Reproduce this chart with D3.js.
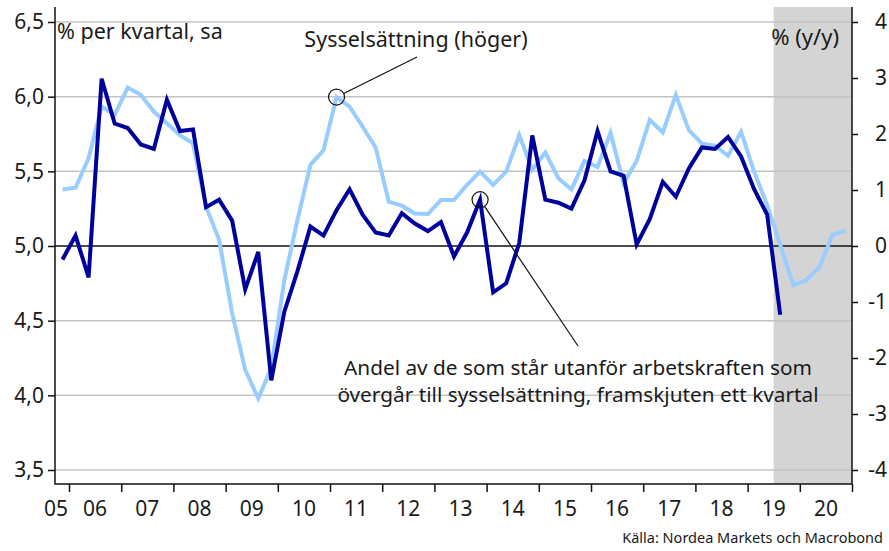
<!DOCTYPE html>
<html>
<head>
<meta charset="utf-8">
<script src="https://cdn.jsdelivr.net/npm/d3@7"></script>
<style>
    body { margin: 0; background: #fff; }
    text { font-family: "Noto Sans", "Open Sans", sans-serif; fill: #1a1a1a; }
</style>
</head>
<body>
<div id="chart"></div>
<script>
//ritningsinställningar
const width = 889;
const height = 551;

//data: kvartal från 2005 Q4
const startYear = 2005;
const startQuarter = 4;

//andel utanför arbetskraften -> sysselsättning, framskjuten ett kvartal (vänster axel)
const flowShare = [
    4.91, 5.07, 4.79, 6.12, 5.82, 5.79, 5.68, 5.65, 5.98, 5.77,
    5.78, 5.26, 5.31, 5.17, 4.71, 4.96, 4.10, 4.56, 4.83, 5.13,
    5.07, 5.24, 5.38, 5.21, 5.09, 5.07, 5.22, 5.15, 5.10, 5.16,
    4.93, 5.09, 5.31, 4.69, 4.75, 5.02, 5.74, 5.31, 5.29, 5.25,
    5.44, 5.77, 5.50, 5.47, 5.01, 5.18, 5.43, 5.33, 5.52, 5.66,
    5.65, 5.73, 5.60, 5.38, 5.21, 4.54
];

//sysselsättning, % y/y (höger axel)
const employment = [
    1.01, 1.04, 1.57, 2.49, 2.34, 2.83, 2.70, 2.40, 2.19, 1.98,
    1.83, 0.70, 0.11, -1.20, -2.21, -2.72, -2.18, -0.61, 0.46, 1.45,
    1.71, 2.66, 2.49, 2.13, 1.76, 0.79, 0.72, 0.58, 0.57, 0.82,
    0.82, 1.09, 1.33, 1.09, 1.33, 1.98, 1.36, 1.67, 1.21, 1.01,
    1.52, 1.41, 2.02, 1.12, 1.52, 2.25, 2.03, 2.70, 2.07, 1.83,
    1.79, 1.61, 2.04, 1.33, 0.73, 0.02, -0.70, -0.61, -0.38, 0.20,
    0.27
];

const leftTicks = [3.5, 4.0, 4.5, 5.0, 5.5, 6.0, 6.5];
const rightTicks = [-4, -3, -2, -1, 0, 1, 2, 3, 4];
const yearLabels = ["05", "06", "07", "08", "09", "10", "11", "12", "13", "14", "15", "16", "17", "18", "19", "20"];
const forecastStart = 2019.5;

const margin = {top: 7, right: 37, bottom: 67, left: 55};

var svg = d3.select("#chart").append("svg")
    .attr("width", width).attr("height", height);

var x = d3.scaleLinear()
    .domain([2005.7315, 2021])
    .range([margin.left, width - margin.right]);

var yLeft = d3.scaleLinear()
    .domain([3.5, 6.5])
    .range([470, 22]);

var yRight = d3.scaleLinear()
    .domain([-4, 4])
    .range([470, 22]);

//kvartalets mittpunkt
function quarterTime(i) {
    var q = startQuarter - 1 + i;
    return startYear + Math.floor(q / 4) + ((q % 4) + 0.5) / 4;
}

var x0 = margin.left, x1 = width - margin.right;
var yTop = margin.top, yBottom = height - margin.bottom;

//prognosfält
svg.append("rect")
    .attr("x", x(forecastStart))
    .attr("y", yTop)
    .attr("width", x1 - x(forecastStart))
    .attr("height", yBottom - yTop)
    .attr("fill", "#d4d4d4");

//rutnät
svg.append("g")
    .selectAll("line")
    .data(leftTicks)
    .enter()
    .append("line")
    .attr("x1", x0).attr("x2", x1)
    .attr("y1", d => yLeft(d)).attr("y2", d => yLeft(d))
    .attr("stroke", d => d === 5.0 ? "#111" : "#c4c4c4")
    .attr("stroke-width", 1.5);

//vänster axel
var leftAxis = svg.append("g")
    .attr("transform", "translate(" + x0 + ",0)")
    .call(d3.axisLeft(yLeft)
        .tickValues(leftTicks)
        .tickFormat(d => d3.format(".1f")(d).replace(".", ","))
        .tickSize(7)
        .tickPadding(4));

//höger axel
var rightAxis = svg.append("g")
    .attr("transform", "translate(" + x1 + ",0)")
    .call(d3.axisRight(yRight)
        .tickValues(rightTicks)
        .tickFormat(d => String(d))
        .tickSize(6)
        .tickPadding(4));

rightAxis.selectAll("text")
    .attr("text-anchor", "end")
    .attr("x", width - 2 - x1);

//x-axel
var yearTicks = d3.range(2006, 2022);
var bottomAxis = svg.append("g")
    .attr("transform", "translate(0," + yBottom + ")")
    .call(d3.axisBottom(x)
        .tickValues(yearTicks)
        .tickFormat("")
        .tickSize(8));

[leftAxis, rightAxis, bottomAxis].forEach(function (a) {
    a.select(".domain").remove();
    a.selectAll(".tick line").attr("stroke", "#111").attr("stroke-width", 1.5);
    a.selectAll("text").style("font-size", "21px").attr("fill", "#1a1a1a");
});

svg.append("g")
    .selectAll("text")
    .data(yearLabels)
    .enter()
    .append("text")
    .attr("x", (d, i) => Math.max(x(2005 + i + 0.5), x0 + 1))
    .attr("y", 516)
    .attr("text-anchor", "middle")
    .style("font-size", "21px")
    .text(d => d);

//axellinjer
svg.append("path")
    .attr("d", "M" + x0 + "," + yTop + "V" + yBottom + "H" + x1 + "V" + yTop)
    .attr("fill", "none")
    .attr("stroke", "#111")
    .attr("stroke-width", 1.5);

//linjer
var lineLeft = d3.line()
    .x((d, i) => x(quarterTime(i)))
    .y(d => yLeft(d));

var lineRight = d3.line()
    .x((d, i) => x(quarterTime(i)))
    .y(d => yRight(d));

svg.append("path")
    .datum(employment)
    .attr("d", lineRight)
    .attr("fill", "none")
    .attr("stroke", "#99ccff")
    .attr("stroke-width", 4)
    .attr("stroke-linejoin", "miter");

svg.append("path")
    .datum(flowShare)
    .attr("d", lineLeft)
    .attr("fill", "none")
    .attr("stroke", "#00009c")
    .attr("stroke-width", 4)
    .attr("stroke-linejoin", "miter");

//enhetsetiketter
svg.append("text")
    .attr("x", 57).attr("y", 39)
    .style("font-size", "21.5px")
    .text("% per kvartal, sa");

svg.append("text")
    .attr("x", 839).attr("y", 45)
    .attr("text-anchor", "end")
    .style("font-size", "22px")
    .text("% (y/y)");

//annoteringar
function annotate(cx, cy, tx, ty) {
    var r = 8;
    var a = Math.atan2(ty - cy, tx - cx);
    svg.append("circle")
        .attr("cx", cx).attr("cy", cy).attr("r", r)
        .attr("fill", "none").attr("stroke", "#111").attr("stroke-width", 1.2);
    svg.append("line")
        .attr("x1", cx + r * Math.cos(a)).attr("y1", cy + r * Math.sin(a))
        .attr("x2", tx).attr("y2", ty)
        .attr("stroke", "#111").attr("stroke-width", 1.2);
}

annotate(x(quarterTime(21)), yRight(employment[21]), 417, 57);
annotate(x(quarterTime(32)), yLeft(flowShare[32]), 578, 346);

svg.append("text")
    .attr("x", 416).attr("y", 47)
    .attr("text-anchor", "middle")
    .style("font-size", "21.5px")
    .text("Sysselsättning (höger)");

var note = svg.append("text")
    .attr("text-anchor", "middle")
    .style("font-size", "20.8px");
note.append("tspan").attr("x", 578).attr("y", 375)
    .text("Andel av de som står utanför arbetskraften som");
note.append("tspan").attr("x", 578).attr("y", 402)
    .text("övergår till sysselsättning, framskjuten ett kvartal");

svg.append("text")
    .attr("x", 883).attr("y", 543)
    .attr("text-anchor", "end")
    .style("font-size", "14.5px")
    .text("Källa: Nordea Markets och Macrobond");
</script>
</body>
</html>
